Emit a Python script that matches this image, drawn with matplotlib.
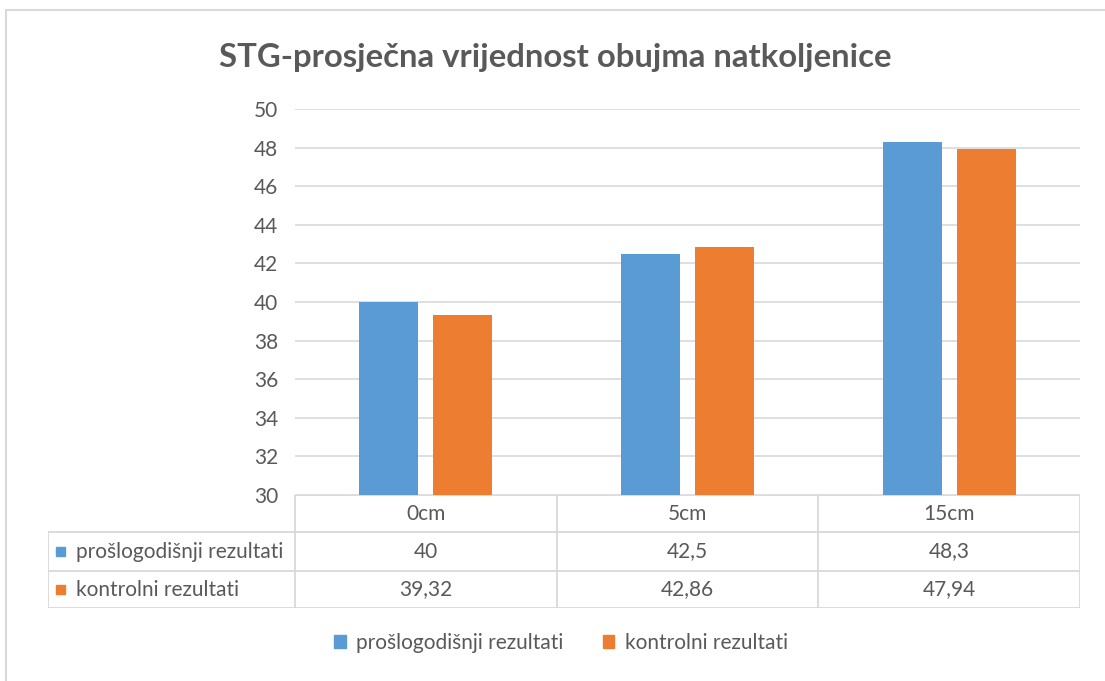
import matplotlib
matplotlib.use("Agg")
import matplotlib.pyplot as plt
from matplotlib.patches import Rectangle, Patch

categories = ["0cm", "5cm", "15cm"]
series_names = ["prošlogodišnji rezultati", "kontrolni rezultati"]
prosli = [40, 42.5, 48.3]
kontrolni = [39.32, 42.86, 47.94]
yticks = [30, 32, 34, 36, 38, 40, 42, 44, 46, 48, 50]
title = "STG-prosječna vrijednost obujma natkoljenice"

colors = ["#5B9BD5", "#ED7D31"]
text_c = "#595959"
grid_c = "#D9D9D9"

plt.rcParams['font.family'] = ['Lato', 'DejaVu Sans']

W, H = 1105, 681
fig = plt.figure(figsize=(W / 100, H / 100), dpi=100)

def fx(px):
    return px / W

def fy(py):
    return 1 - py / H

# outer chart border
fig.patches.append(Rectangle((fx(6), fy(1000)), fx(2000), fy(10) - fy(1000),
                             transform=fig.transFigure, fill=False,
                             edgecolor=grid_c, lw=1.5, zorder=0))

# main axes
L, R, T, B = 295, 1080, 109, 495
ax = fig.add_axes([fx(L), fy(B), fx(R) - fx(L), fy(T) - fy(B)])
x = list(range(len(categories)))
bw = 0.226
gap = 0.057
off = (bw + gap) / 2
ax.bar([i - off for i in x], [v - 30 for v in prosli], bottom=30, width=bw,
       color=colors[0], zorder=3)
ax.bar([i + off for i in x], [v - 30 for v in kontrolni], bottom=30, width=bw,
       color=colors[1], zorder=3)
ax.set_xlim(-0.5, len(categories) - 0.5)
ax.set_ylim(30, 50)
ax.set_yticks(yticks)
ax.set_yticklabels([str(t) for t in yticks])
ax.set_xticks([])
ax.tick_params(axis='y', length=0, labelsize=15, colors=text_c, pad=12)
ax.yaxis.grid(True, color=grid_c, lw=1.2, zorder=0)
for s in ax.spines.values():
    s.set_visible(False)

fig.text(fx(555), fy(57), title, ha='center', va='center', fontsize=23.7,
         fontweight='bold', color=text_c)

# data table
TL, TB = 48, 608
tax = fig.add_axes([fx(TL), fy(TB), fx(R) - fx(TL), fy(B) - fy(TB)])
tax.set_xlim(TL, R)
tax.set_ylim(TB, B)
tax.axis('off')
col_edges = [L + (R - L) * k / len(categories) for k in range(len(categories) + 1)]
row_edges = [B, 532, 571, TB]
lc = dict(color=grid_c, lw=1.3)
tax.plot([L, R], [row_edges[0], row_edges[0]], **lc)
for ry in row_edges[1:]:
    tax.plot([TL, R], [ry, ry], **lc)
for cx in col_edges:
    tax.plot([cx, cx], [B, TB], **lc)
tax.plot([TL, TL], [row_edges[1], TB], **lc)

fs_tab = 15
for k, cat in enumerate(categories):
    cx = (col_edges[k] + col_edges[k + 1]) / 2
    tax.text(cx, (row_edges[0] + row_edges[1]) / 2 + 1, cat, ha='center', va='center',
             fontsize=fs_tab, color=text_c)

def fmt(v):
    return f"{v:g}".replace('.', ',')

for r, (name, vals) in enumerate(zip(series_names, [prosli, kontrolni])):
    cy = (row_edges[r + 1] + row_edges[r + 2]) / 2
    tax.add_patch(Rectangle((56, cy - 4.5), 9, 9, color=colors[r], clip_on=False))
    tax.text(76, cy, name, ha='left', va='center', fontsize=fs_tab, color=text_c)
    for k, v in enumerate(vals):
        cx = (col_edges[k] + col_edges[k + 1]) / 2
        tax.text(cx, cy, fmt(v), ha='center', va='center', fontsize=fs_tab, color=text_c)

handles = [Patch(color=c) for c in colors]
fig.legend(handles, series_names, loc='center', bbox_to_anchor=(fx(561), fy(643)),
           ncol=2, frameon=False, fontsize=fs_tab, labelcolor=text_c,
           handlelength=0.55, handleheight=0.55, handletextpad=0.5, columnspacing=1.9)

fig.savefig("out.png", dpi=100)
